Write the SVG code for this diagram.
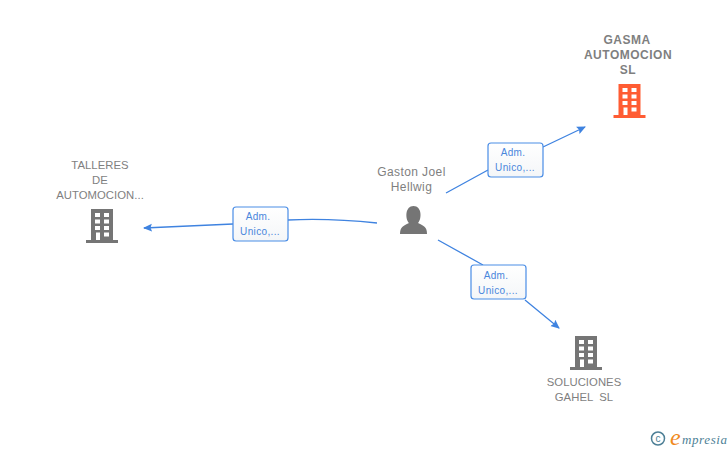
<svg xmlns="http://www.w3.org/2000/svg" width="728" height="450" viewBox="0 0 728 450">
<style>
text{font-family:"Liberation Sans",Arial,sans-serif}
.n{font-size:11.3px;fill:#7f7f7f;text-anchor:middle;letter-spacing:.05px}
.p{font-size:12px;letter-spacing:.4px}
.b{font-weight:bold;font-size:12px;letter-spacing:.5px}
.e{fill:none;stroke:#3f83e0;stroke-width:1.3}
.lb{fill:#fff;stroke:#4a8de6;stroke-width:1.2}
.lt{font-size:10px;fill:#4a86dc;text-anchor:middle;letter-spacing:.35px}
.h{fill:#fff}
</style>
<defs>
<marker id="a" markerWidth="10" markerHeight="10" refX="8" refY="5" orient="auto" markerUnits="userSpaceOnUse"><path d="M0 1L9 5L0 9L1.500 5Z" fill="#3f83e0"/></marker>
<linearGradient id="g" x1="0" y1="0" x2="0" y2="1"><stop offset="0" stop-color="#fff"/><stop offset="1" stop-color="#f4f6f8"/></linearGradient>
<g id="bld">
<path d="M-11 -17H11V14H16V17H-16V14H-11Z"/>
<g class="h">
<rect x="-7" y="-13" width="5" height="4"/><rect x="2" y="-13" width="5" height="4"/>
<rect x="-7" y="-6.500" width="5" height="4"/><rect x="2" y="-6.500" width="5" height="4"/>
<rect x="-7" y="0" width="5" height="4"/><rect x="2" y="0" width="5" height="4"/>
<rect x="-6" y="6.500" width="4" height="7.500"/><rect x="2" y="6.500" width="5" height="4"/>
</g>
</g>
</defs>
<g id="connectors">
<path class="e" d="M446 193L488 170M543 147L585 127" marker-end="url(#a)"/>
<path class="e" d="M377 223Q330 218 288 220M233 224L144 228" marker-end="url(#a)"/>
<path class="e" d="M438 240L483 265M525 300L559 328" marker-end="url(#a)"/>
</g>
<g id="label-gasma"><rect class="lb" x="488" y="143" width="55" height="34" rx="3" style="fill:url(#g)"/><text class="lt" x="513" y="156">Adm.</text><text class="lt" x="515" y="171">Unico,...</text></g>
<g id="label-talleres"><rect class="lb" x="233" y="207" width="55" height="34" rx="3" style="fill:url(#g)"/><text class="lt" x="258" y="220">Adm.</text><text class="lt" x="260" y="235">Unico,...</text></g>
<g id="label-soluciones"><rect class="lb" x="471" y="265" width="55" height="34" rx="3" style="fill:url(#g)"/><text class="lt" x="496" y="279">Adm.</text><text class="lt" x="498" y="294">Unico,...</text></g>
<g id="node-gasma">
<text class="n b" x="627" y="44">GASMA</text><text class="n b" x="628" y="59">AUTOMOCION</text><text class="n b" x="628" y="74">SL</text>
<use href="#bld" x="629.500" y="101" fill="#ff5c33"/>
</g>
<g id="node-talleres">
<text class="n" x="100" y="169">TALLERES</text><text class="n" x="100" y="184">DE</text><text class="n" x="100" y="199">AUTOMOCION...</text>
<use href="#bld" x="102" y="226" fill="#757575"/>
</g>
<g id="node-gaston">
<text class="n p" x="411.500" y="176">Gaston Joel</text><text class="n p" x="411.500" y="191">Hellwig</text>
<path d="M400 234C400 227 403 226 409 223C405 219 405 206 413.500 206C422 206 422 219 418 223C424 226 427 227 427 234Z" fill="#757575"/>
</g>
<g id="node-soluciones">
<use href="#bld" x="586" y="353" fill="#757575"/>
<text class="n" x="584" y="386">SOLUCIONES</text><text class="n" x="584" y="401" xml:space="preserve">GAHEL  SL</text>
</g>
<g id="credit">
<circle cx="658" cy="438.500" r="6.500" fill="none" stroke="#4d7f96" stroke-width="1.500"/>
<text x="658" y="442" font-size="10" fill="#4d7f96" text-anchor="middle">c</text>
<text x="670" y="445" font-size="24" fill="#f08a1d" font-style="italic" style="font-family:'Liberation Serif',serif">e</text>
<text x="682" y="444" font-size="13" fill="#4d7f96" font-style="italic" style="font-family:'Liberation Serif',serif" letter-spacing=".6">mpresia</text>
</g>
</svg>
